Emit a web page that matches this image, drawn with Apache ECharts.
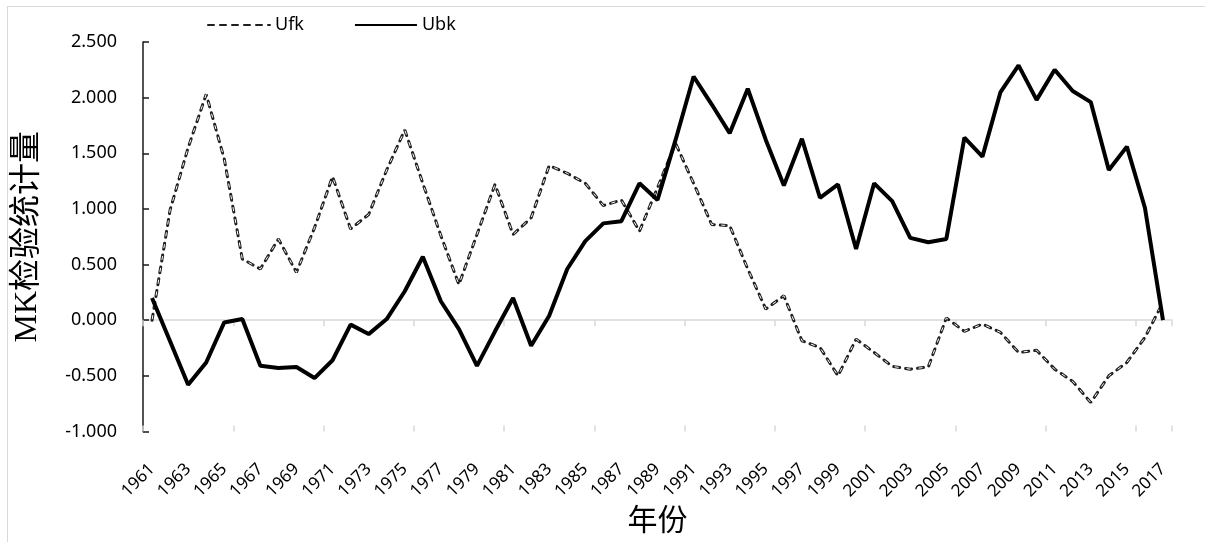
<!DOCTYPE html>
<html>
<head>
<meta charset="utf-8">
<script src="https://cdn.jsdelivr.net/npm/echarts@6/dist/echarts.min.js"></script>
<style>
  html, body { margin: 0; padding: 0; background: #fff; }
  #chart { width: 1205px; height: 542px; }
  .frame {
    position: absolute; left: 7px; top: 6px; right: -2px; bottom: -2px;
    border: 1.5px solid #d9d9d9; pointer-events: none;
  }
</style>
</head>
<body>
<div id="chart"></div>
<div class="frame"></div>
<script>
// 年份 1961-2017
var years = [];
for (var y = 1961; y <= 2017; y++) years.push(String(y));

// 正序列统计量 UF
var ufk = [
  0, 0.99, 1.55, 2.03, 1.45, 0.55, 0.46, 0.73, 0.43, 0.83,
  1.29, 0.82, 0.95, 1.35, 1.71, 1.23, 0.76, 0.32, 0.77, 1.22,
  0.77, 0.92, 1.39, 1.32, 1.23, 1.03, 1.08, 0.80, 1.19, 1.59,
  1.23, 0.86, 0.85, 0.46, 0.10, 0.22, -0.185, -0.245, -0.50, -0.17,
  -0.29, -0.415, -0.44, -0.42, 0.02, -0.10, -0.035, -0.11, -0.29, -0.27,
  -0.44, -0.55, -0.74, -0.50, -0.38, -0.155, 0.16
];

// 逆序列统计量 UB
var ubk = [
  0.20, -0.19, -0.58, -0.38, -0.02, 0.01, -0.41, -0.43, -0.42, -0.52,
  -0.36, -0.04, -0.125, 0.01, 0.26, 0.57, 0.17, -0.08, -0.41, -0.10,
  0.20, -0.23, 0.04, 0.46, 0.71, 0.87, 0.89, 1.23, 1.08, 1.62,
  2.19, 1.94, 1.68, 2.08, 1.62, 1.21, 1.63, 1.10, 1.22, 0.64,
  1.23, 1.07, 0.74, 0.70, 0.73, 1.64, 1.47, 2.05, 2.29, 1.98,
  2.25, 2.06, 1.96, 1.35, 1.56, 1.01, 0
];

var legendData = ["Ufk", "Ubk"];
var labelFont = "'Noto Sans', 'Liberation Sans', sans-serif";
var nameFont = "'Liberation Serif', 'Noto Sans CJK SC', serif";

var chart = echarts.init(document.getElementById("chart"));

var option = {
  animation: false,
  grid: { left: 143, right: 33, top: 42, bottom: 109 },
  legend: {
    data: legendData,
    left: 202,
    top: 11,
    itemWidth: 62,
    itemHeight: 14,
    itemGap: 50,
    itemStyle: { opacity: 0 }, // 不显示图例中的圆点
    textStyle: { fontSize: 18, color: "#000", fontFamily: labelFont },
  },
  xAxis: [
    {
      // 底部的年份标签
      type: "category",
      data: years,
      boundaryGap: true,
      position: "bottom",
      axisLine: { show: false, onZero: false },
      axisTick: { show: false },
      axisLabel: {
        interval: 1,
        rotate: 45,
        margin: 35,
        fontSize: 17,
        color: "#000",
        fontFamily: labelFont,
      },
      name: "年份",
      nameLocation: "middle",
      nameGap: 72,
      nameTextStyle: { fontSize: 30, color: "#000", fontFamily: nameFont },
    },
    {
      // 0 位置的横轴线, 向下的刻度
      type: "category",
      data: years,
      boundaryGap: true,
      position: "bottom",
      axisLine: { onZero: true, lineStyle: { color: "#d9d9d9", width: 1.5 } },
      axisTick: { show: true, interval: 4, length: 6, lineStyle: { color: "#d9d9d9", width: 1.5 } },
      axisLabel: { show: false },
    },
    {
      // 向上的刻度
      type: "category",
      data: years,
      boundaryGap: true,
      position: "bottom",
      axisLine: { onZero: true, show: false },
      axisTick: { show: true, inside: true, interval: 4, length: 6, lineStyle: { color: "#d9d9d9", width: 1.5 } },
      axisLabel: { show: false },
    },
  ],
  yAxis: {
    type: "value",
    min: -1,
    max: 2.5,
    interval: 0.5,
    axisLine: { show: true, lineStyle: { color: "#1a1a1a", width: 1.5 } },
    axisTick: { show: true, inside: true, length: 6, lineStyle: { color: "#1a1a1a", width: 1.5 } },
    splitLine: { show: false },
    axisLabel: {
      margin: 26,
      fontSize: 18,
      color: "#000",
      fontFamily: labelFont,
      formatter: function (v) {
        return v.toFixed(3);
      },
    },
    name: "MK检验统计量",
    nameLocation: "middle",
    nameGap: 99,
    nameTextStyle: { fontSize: 32, color: "#000", fontFamily: nameFont },
  },
  series: [
    {
      name: "Ufk",
      type: "line",
      xAxisIndex: 0,
      data: ufk,
      symbol: "none",
      lineStyle: { color: "#1f1f1f", width: 3, type: [6, 6], cap: "round" },
      itemStyle: { color: "#1f1f1f" },
      z: 2,
    },
    {
      // 虚线内部的浅色, 做出空心虚线效果
      name: "Ufk-inner",
      type: "line",
      xAxisIndex: 0,
      data: ufk,
      symbol: "none",
      silent: true,
      lineStyle: { color: "#fff", width: 1, type: [4, 8], dashOffset: -1 },
      z: 3,
    },
    {
      name: "Ubk",
      type: "line",
      xAxisIndex: 0,
      data: ubk,
      symbol: "none",
      lineStyle: { color: "#000", width: 4 },
      itemStyle: { color: "#000" },
      z: 4,
    },
  ],
};

chart.setOption(option);
</script>
</body>
</html>
